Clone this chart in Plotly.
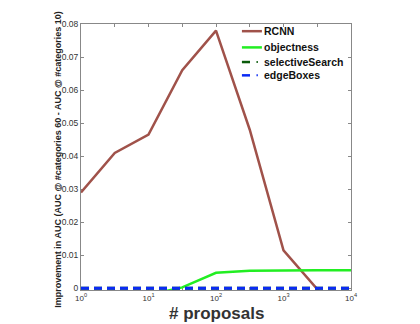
import numpy as np
import plotly.graph_objects as go

# number of proposals (half-decade steps)
proposals = [1, 3.162, 10, 31.62, 100, 316.2, 1000, 3162, 10000]

rcnn = [0.029, 0.041, 0.0465, 0.066, 0.078, 0.048, 0.0115, 0.0, -0.012]
objectness = [-0.002, -0.002, -0.002, 0.0003, 0.0047, 0.0053, 0.0055, 0.0055, 0.0055]
selective_search = [0, 0, 0, 0, 0, 0, 0, 0, 0]
edge_boxes = [0, 0, 0, 0, 0, 0, 0, 0, 0]

names = ["RCNN", "objectness", "selectiveSearch", "edgeBoxes"]
colors = ["#a0524a", "#22ee22", "#0a5a0a", "#0a2af5"]
dashes = ["solid", "solid", "8px,5px", "8px,5px"]
widths = [2.5, 2.5, 3, 3]

x_tickvals = [1, 3.162, 10, 31.62, 100, 316.2, 1000, 3162, 10000]
x_ticktext = ["10<sup>0</sup>", "", "10<sup>1</sup>", "", "10<sup>2</sup>", "",
              "10<sup>3</sup>", "", "10<sup>4</sup>"]
y_tickvals = [0, 0.01, 0.02, 0.03, 0.04, 0.05, 0.06, 0.07, 0.08]
y_ticktext = ["0", "0.01", "0.02", "0.03", "0.04", "0.05", "0.06", "0.07", "0.08"]

fig = go.Figure()

for vals, name, c, d, w in zip([rcnn, objectness, selective_search, edge_boxes],
                               names, colors, dashes, widths):
    fig.add_trace(go.Scatter(x=proposals, y=vals, mode="lines", name=name,
                             line=dict(color=c, width=w, dash=d)))

# compact legend (matlab style), drawn in paper coords
leg_y = [0.973, 0.912, 0.857, 0.807]
for name, c, d, yy in zip(names, colors, dashes, leg_y):
    if d == "solid":
        fig.add_shape(type="line", xref="paper", yref="paper", x0=0.596, x1=0.670,
                      y0=yy, y1=yy, line=dict(color=c, width=2.5))
    else:
        fig.add_shape(type="line", xref="paper", yref="paper", x0=0.596, x1=0.626,
                      y0=yy, y1=yy, line=dict(color=c, width=2.5))
        fig.add_shape(type="line", xref="paper", yref="paper", x0=0.650, x1=0.655,
                      y0=yy, y1=yy, line=dict(color=c, width=2))
    fig.add_annotation(xref="paper", yref="paper", x=0.672, y=yy, xanchor="left",
                       yanchor="middle", showarrow=False, text="<b>" + name + "</b>",
                       font=dict(size=10.5, color="#111"))

fig.add_annotation(xref="paper", yref="paper", x=0.5, y=-0.045, xanchor="center",
                   yanchor="top", showarrow=False, text="<b># proposals</b>",
                   font=dict(size=17, color="#333"))
fig.add_annotation(xref="paper", yref="paper", x=-0.085, y=0.49, xanchor="center",
                   yanchor="middle", showarrow=False, textangle=-90,
                   text="<b>Improvement in AUC (AUC @ #categories 60 - AUC @ #categories 10)</b>",
                   font=dict(size=9, color="#222"))

# page body has an 8px margin, so the figure is 8px smaller than the window
fig.update_layout(
    width=412, height=316,
    margin=dict(l=73, r=69, t=16, b=34),
    paper_bgcolor="white", plot_bgcolor="white",
    font=dict(family="Liberation Sans, Arial", size=9, color="#222"),
    showlegend=False,
)

fig.update_xaxes(
    type="log", range=[0, 4],
    tickvals=x_tickvals, ticktext=x_ticktext,
    ticks="inside", ticklen=3, tickcolor="#888",
    showline=True, linecolor="#888", linewidth=1, mirror="ticks",
    showgrid=False, zeroline=False, layer="below traces",
    tickfont=dict(size=8, color="#333"),
)
# small negative floor so the dashed zero lines are not half clipped
fig.update_yaxes(
    range=[-0.0005, 0.08],
    tickvals=y_tickvals, ticktext=y_ticktext,
    ticks="inside", ticklen=3, tickcolor="#888",
    showline=True, linecolor="#888", linewidth=1, mirror="ticks",
    showgrid=False, zeroline=False, layer="below traces",
    tickfont=dict(size=8.5, color="#333"),
)

fig.write_html("out.html")
